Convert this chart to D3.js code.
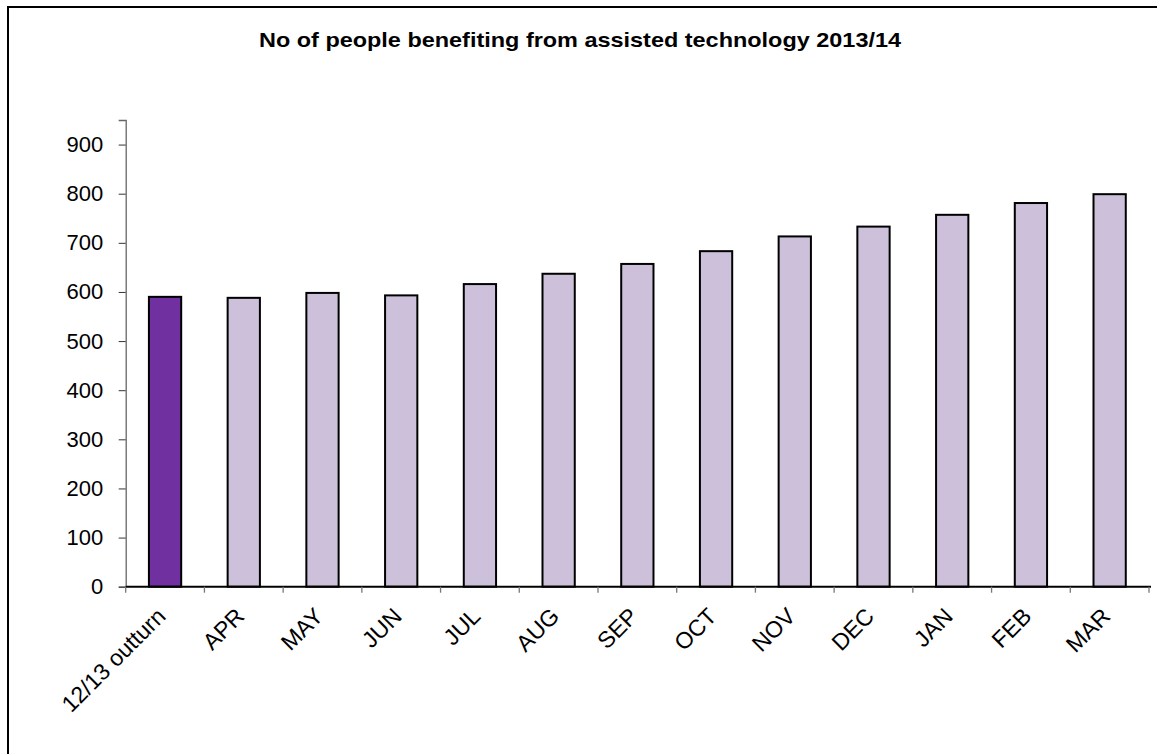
<!DOCTYPE html>
<html>
<head>
<meta charset="utf-8">
<script src="https://cdn.jsdelivr.net/npm/d3@7"></script>
<style>
  body { margin: 0; background: #fff; }
  svg { display: block; font-family: "Liberation Sans", Arial, sans-serif; }
</style>
</head>
<body>
<div id="chart"></div>
<script>
// chart data
const title = "No of people benefiting from assisted technology 2013/14";
const categories = ["12/13 outturn", "APR", "MAY", "JUN", "JUL", "AUG", "SEP", "OCT", "NOV", "DEC", "JAN", "FEB", "MAR"];
const values = [590, 588, 598, 593, 616, 637, 657, 683, 713, 733, 757, 781, 799];
const yTicks = [0, 100, 200, 300, 400, 500, 600, 700, 800, 900];
const yMax = 950;

const W = 1157, H = 754;
const plot = { left: 125.7, right: 1149, top: 120, bottom: 586.7 };

const svg = d3.select("#chart").append("svg")
    .attr("width", W)
    .attr("height", H);

// outer frame (runs off the right and bottom edge like the source)
svg.append("rect")
    .attr("x", 8).attr("y", 7)
    .attr("width", W + 20).attr("height", H + 20)
    .attr("fill", "none")
    .attr("stroke", "#000")
    .attr("stroke-width", 2);

const x = d3.scaleBand()
    .domain(categories)
    .range([plot.left, plot.right])
    .paddingInner(0.59)
    .paddingOuter(0.295);

const y = d3.scaleLinear()
    .domain([0, yMax])
    .range([plot.bottom, plot.top]);

// title
svg.append("text")
    .attr("x", 580)
    .attr("y", 47)
    .attr("text-anchor", "middle")
    .attr("font-size", 21)
    .attr("font-weight", "bold")
    .attr("fill", "#000")
    .text(title)
    .attr("textLength", 642)
    .attr("lengthAdjust", "spacingAndGlyphs");

// bars
svg.append("g")
    .selectAll("rect")
    .data(values)
    .join("rect")
    .attr("x", (d, i) => x(categories[i]))
    .attr("y", d => y(d))
    .attr("width", x.bandwidth())
    .attr("height", d => y(0) - y(d))
    .attr("fill", (d, i) => i === 0 ? "#7030A0" : "#CCC0DA")
    .attr("stroke", "#000")
    .attr("stroke-width", 2);

// y axis
const yAxis = svg.append("g")
    .attr("transform", `translate(${plot.left},0)`)
    .call(d3.axisLeft(y).tickValues(yTicks).tickSize(7).tickPadding(15.5));
yAxis.select(".domain").attr("stroke", "#666").attr("stroke-width", 1.3);
yAxis.selectAll(".tick line").attr("stroke", "#333");
yAxis.selectAll(".tick text")
    .attr("font-size", 22)
    .attr("font-family", "Liberation Sans, Arial, sans-serif")
    .attr("fill", "#000");

// x axis (ticks sit on the band boundaries, as in Excel)
const xAxis = svg.append("g")
    .attr("transform", `translate(0,${plot.bottom})`);
xAxis.append("line")
    .attr("x1", plot.left).attr("x2", plot.right + 2)
    .attr("stroke", "#000").attr("stroke-width", 2);
const step = x.step();
const bounds = d3.range(categories.length + 1).map(i => x(categories[0]) - x.paddingOuter() * step + i * step);
xAxis.selectAll(".xt")
    .data(bounds)
    .join("line")
    .attr("class", "xt")
    .attr("x1", d => d).attr("x2", d => d)
    .attr("y1", 0).attr("y2", 6)
    .attr("stroke", "#777").attr("stroke-width", 1.3);

xAxis.selectAll(".xl")
    .data(categories)
    .join("text")
    .attr("class", "xl")
    .attr("text-anchor", "end")
    .attr("font-size", 23)
    .attr("fill", "#000")
    .attr("transform", d => `translate(${x(d) + x.bandwidth() / 2 + 2},${31}) rotate(-45)`)
    .text(d => d);
</script>
</body>
</html>
